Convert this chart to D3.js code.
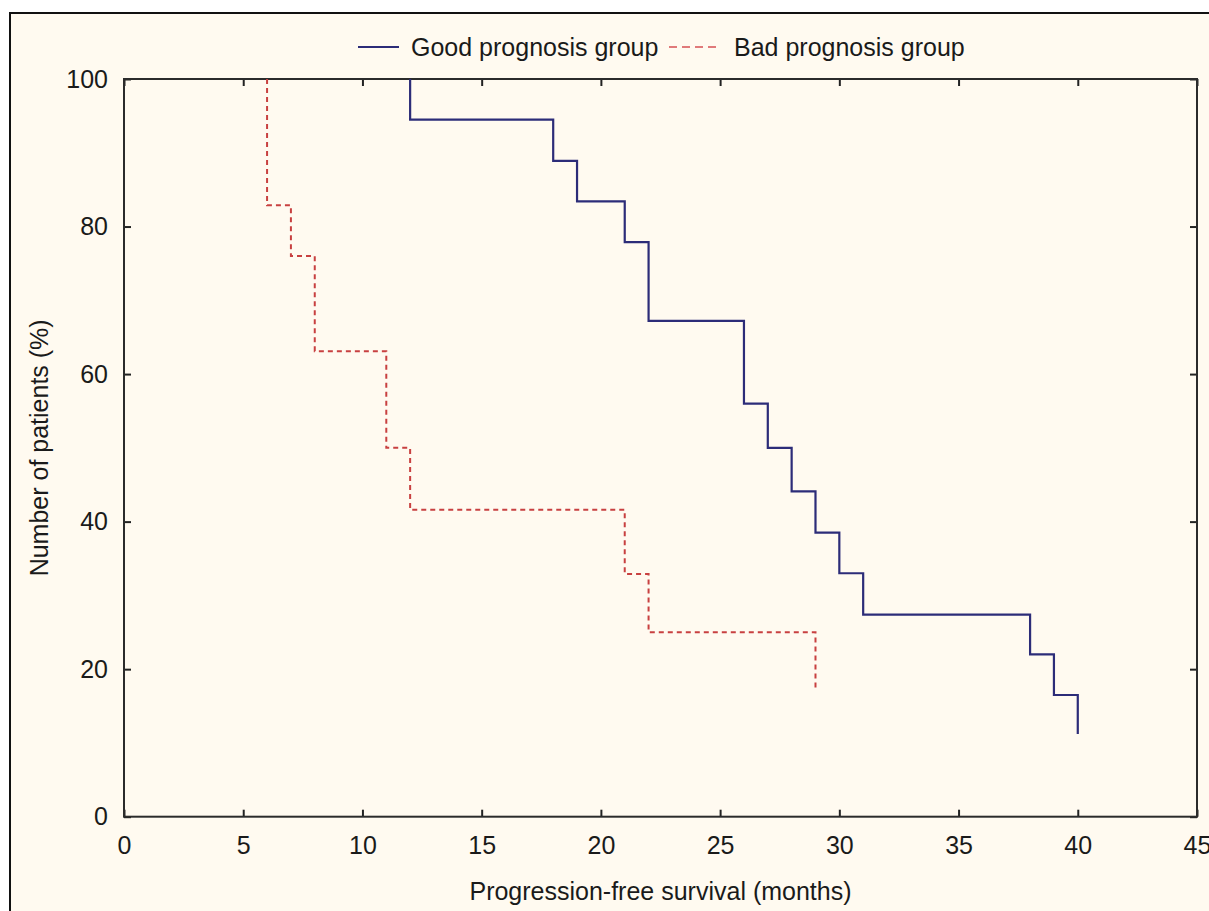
<!DOCTYPE html>
<html>
<head>
<meta charset="utf-8">
<script src="https://cdn.jsdelivr.net/npm/d3@7"></script>
<style>
  html, body { margin: 0; padding: 0; background: #ffffff; }
  svg { display: block; }
  text { font-family: "Liberation Sans", Arial, sans-serif; fill: #1a1a1a; }
</style>
</head>
<body>
<svg id="chart" width="1209" height="911"></svg>
<script>
// Kaplan-Meier style step curves: time of each step (months) and the
// percentage of patients still progression-free after that step.
const goodTimes    = [12, 12, 18, 19, 21, 22, 26, 27, 28, 29, 30, 31, 38, 39, 40];
const goodSurvival = [100, 94.5, 88.9, 83.4, 77.9, 67.2, 56.0, 50.0, 44.1, 38.5, 33.0, 27.4, 22.0, 16.5, 11.2];

const badTimes    = [6, 6, 7, 8, 11, 12, 21, 22, 29];
const badSurvival = [100, 82.9, 76.0, 63.1, 50.0, 41.6, 32.9, 25.0, 17.4];

const xTicks = [0, 5, 10, 15, 20, 25, 30, 35, 40, 45];
const yTicks = [0, 20, 40, 60, 80, 100];

const seriesNames = ["Good prognosis group", "Bad prognosis group"];

const svg = d3.select("#chart");
const W = 1209, H = 911;

// framed panel background
svg.append("rect")
  .attr("x", 10).attr("y", 13)
  .attr("width", W + 10).attr("height", H + 10)
  .attr("fill", "#fffaf0")
  .attr("stroke", "#111").attr("stroke-width", 2);

const plot = { left: 124, top: 79, right: 1197, bottom: 816.7 };

const x = d3.scaleLinear().domain([0, 45]).range([plot.left, plot.right]);
const y = d3.scaleLinear().domain([0, 100]).range([plot.bottom, plot.top]);

const fontSize = 25;

// axes with ticks pointing into the plot on all four sides
const gBottom = svg.append("g")
  .attr("transform", `translate(0,${plot.bottom})`)
  .call(d3.axisBottom(x).tickValues(xTicks).tickSizeInner(-7).tickSizeOuter(0).tickPadding(19.5));
const gLeft = svg.append("g")
  .attr("transform", `translate(${plot.left},0)`)
  .call(d3.axisLeft(y).tickValues(yTicks).tickSizeInner(-7).tickSizeOuter(0).tickPadding(16));
const gTop = svg.append("g")
  .attr("transform", `translate(0,${plot.top})`)
  .call(d3.axisTop(x).tickValues(xTicks).tickSizeInner(-7).tickSizeOuter(0).tickFormat(""));
const gRight = svg.append("g")
  .attr("transform", `translate(${plot.right},0)`)
  .call(d3.axisRight(y).tickValues(yTicks).tickSizeInner(-7).tickSizeOuter(0).tickFormat(""));

[gBottom, gLeft, gTop, gRight].forEach(g => {
  g.select(".domain").remove();
  g.selectAll(".tick line").attr("stroke", "#222").attr("stroke-width", 2);
  g.selectAll(".tick text")
    .attr("font-family", "Liberation Sans, Arial, sans-serif")
    .attr("font-size", fontSize)
    .attr("fill", "#1a1a1a");
});

// plot frame
svg.append("rect")
  .attr("x", plot.left).attr("y", plot.top)
  .attr("width", plot.right - plot.left).attr("height", plot.bottom - plot.top)
  .attr("fill", "none").attr("stroke", "#2b2b2b").attr("stroke-width", 2);

// survival step curves
const stepLine = d3.line()
  .x(d => x(d[0]))
  .y(d => y(d[1]))
  .curve(d3.curveStepAfter);

const goodPts = goodTimes.map((t, i) => [t, goodSurvival[i]]);
const badPts  = badTimes.map((t, i) => [t, badSurvival[i]]);

const goodColor = "#2c2c78";
const badColor  = "#c84040";

svg.append("path")
  .datum(badPts)
  .attr("d", stepLine)
  .attr("fill", "none")
  .attr("stroke", badColor)
  .attr("stroke-width", 2)
  .attr("stroke-dasharray", "5,4");

svg.append("path")
  .datum(goodPts)
  .attr("d", stepLine)
  .attr("fill", "none")
  .attr("stroke", goodColor)
  .attr("stroke-width", 2.2);

// legend
const legendY = 47;
svg.append("line")
  .attr("x1", 358).attr("x2", 399).attr("y1", legendY).attr("y2", legendY)
  .attr("stroke", goodColor).attr("stroke-width", 2);
svg.append("text")
  .attr("x", 411).attr("y", legendY).attr("dy", "0.35em")
  .attr("font-size", fontSize)
  .text(seriesNames[0]);
svg.append("line")
  .attr("x1", 669).attr("x2", 717).attr("y1", legendY).attr("y2", legendY)
  .attr("stroke", "#e07a7a").attr("stroke-width", 2)
  .attr("stroke-dasharray", "8,5");
svg.append("text")
  .attr("x", 734).attr("y", legendY).attr("dy", "0.35em")
  .attr("font-size", fontSize)
  .text(seriesNames[1]);

// axis titles
svg.append("text")
  .attr("x", (plot.left + plot.right) / 2).attr("y", 900)
  .attr("text-anchor", "middle")
  .attr("font-size", fontSize)
  .text("Progression-free survival (months)");

svg.append("text")
  .attr("transform", `translate(48,${(plot.top + plot.bottom) / 2}) rotate(-90)`)
  .attr("text-anchor", "middle")
  .attr("font-size", fontSize)
  .text("Number of patients (%)");
</script>
</body>
</html>
